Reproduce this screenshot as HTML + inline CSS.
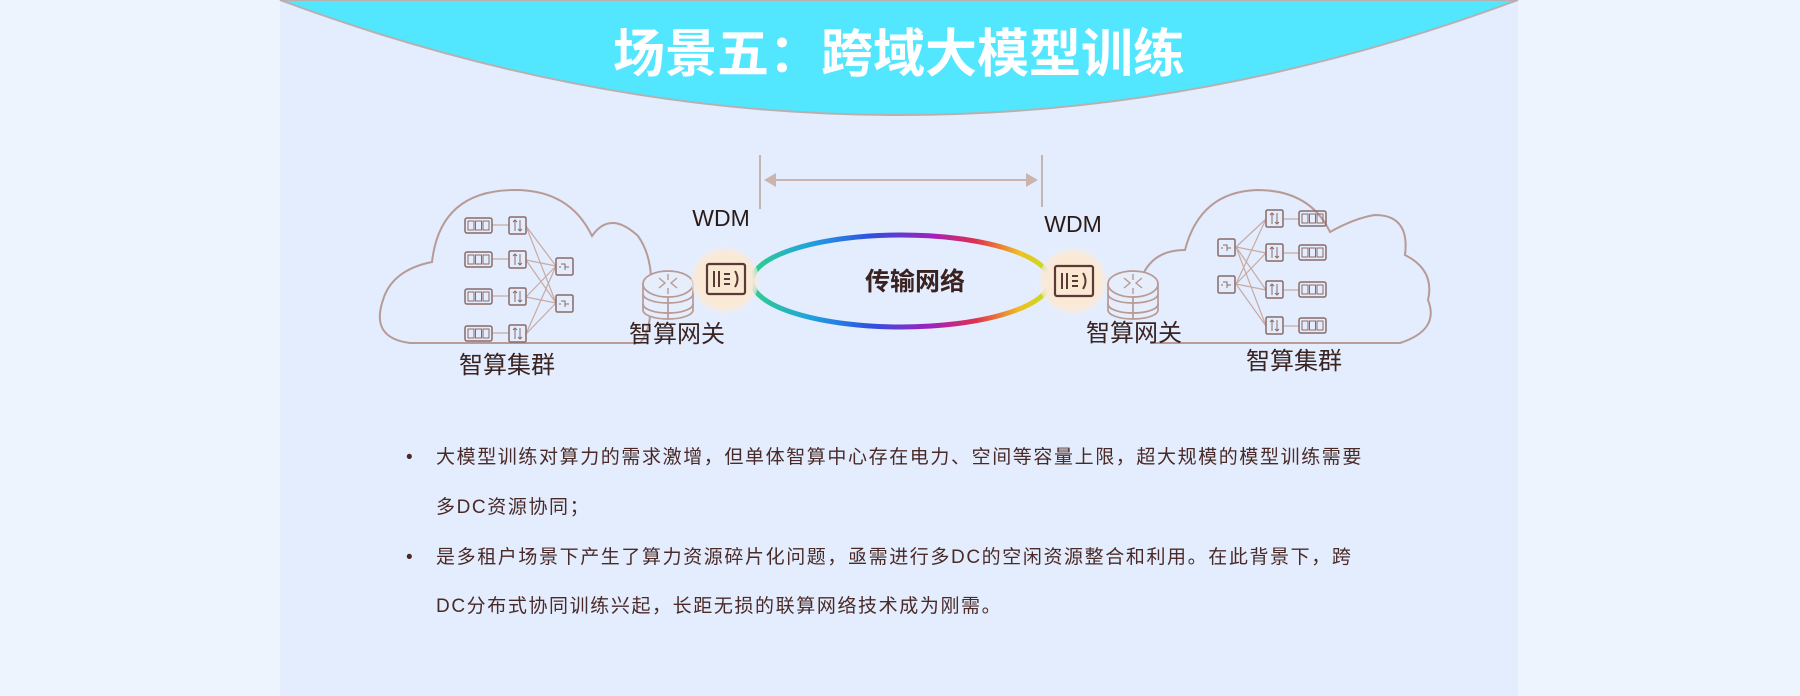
<!DOCTYPE html>
<html><head><meta charset="utf-8"><style>
html,body{margin:0;padding:0;width:1800px;height:696px;overflow:hidden;background:#eef4fd;}
svg{display:block}
</style></head><body>
<svg width="1800" height="696" viewBox="0 0 1800 696" xmlns="http://www.w3.org/2000/svg" font-family="'Liberation Sans','Noto Sans CJK SC',sans-serif">
<defs>
<linearGradient id="rb" x1="0" y1="0" x2="1" y2="0">
<stop offset="0" stop-color="#2fd08a"/><stop offset="0.2" stop-color="#20a0e0"/><stop offset="0.4" stop-color="#3050e0"/>
<stop offset="0.6" stop-color="#a020c0"/><stop offset="0.75" stop-color="#e03050"/><stop offset="0.9" stop-color="#f0c020"/><stop offset="1" stop-color="#c0e020"/>
</linearGradient>
<radialGradient id="gl"><stop offset="0" stop-color="#fbe8d0"/><stop offset="0.8" stop-color="#fae9d6"/><stop offset="1" stop-color="#f4ebe6" stop-opacity="0.6"/></radialGradient>
<g id="srv"><rect x="0" y="0" width="27" height="15" rx="2" fill="none" stroke="#8a6a66" stroke-width="1.5"/><rect x="3" y="3" width="6" height="9" fill="none" stroke="#8a6a66"/><rect x="10.5" y="3" width="6" height="9" fill="none" stroke="#8a6a66"/><rect x="18" y="3" width="6" height="9" fill="none" stroke="#8a6a66"/></g>
<g id="sw"><rect x="0" y="0" width="17" height="17" rx="1.5" fill="none" stroke="#8a6a66" stroke-width="1.5"/><path d="M6 3v11M11 3v11M4 5l2-2 2 2M9 12l2 2 2-2" fill="none" stroke="#8a6a66"/></g>
<g id="sp"><rect x="0" y="0" width="17" height="17" rx="1.5" fill="none" stroke="#8a6a66" stroke-width="1.5"/><path d="M5 6h4v6M9 9h4M3 9h2" fill="none" stroke="#8a6a66"/></g>
<g id="rtr" stroke="#b89a96" stroke-width="1.7" fill="#e6eefc">
<path d="M-25 34v6a25 9 0 0 0 50 0v-6"/>
<ellipse cx="0" cy="34" rx="25" ry="9"/>
<path d="M-25 24v10a25 9 0 0 0 50 0v-10"/>
<path d="M-25 14v10a25 9 0 0 0 50 0v-10"/>
<ellipse cx="0" cy="14" rx="25" ry="13"/>
<path d="M-9 8l6 5-6 5M9 8l-6 5 6 5M0 4v6M0 18v6" fill="none" stroke-width="1.4"/>
<path d="M0 27v22" fill="none"/>
</g>
<g id="wdm"><rect x="-19" y="-15" width="38" height="30" rx="2" fill="none" stroke="#5a3a34" stroke-width="2.2"/><path d="M-12 -8v16M-7 -8v16M-2 -5h6M-2 0h6M-2 5h6M9 -8q5 8 0 16" fill="none" stroke="#5a3a34" stroke-width="2"/></g>
</defs>
<rect x="280" y="0" width="1238" height="696" fill="#e3edfd"/>
<path d="M280 0 Q899 230 1518 0 Z" fill="#52e6ff" stroke="#b8b0b0" stroke-width="2"/>
<text x="899" y="72" text-anchor="middle" font-size="52" font-weight="bold" fill="#fff">场景五：跨域大模型训练</text>

<path d="M760 155v54M1042 155v52" stroke="#b8a298" stroke-width="1.5"/>
<path d="M770 180h262" stroke="#ccb4ae" stroke-width="2"/>
<path d="M764 180l12-7v14z M1038 180l-12-7v14z" fill="#ccb4ae"/>

<path d="M410 343 Q370 338 383 300 Q392 270 432 262 Q440 190 515 190 Q570 190 592 236 Q610 210 638 236 Q655 260 650 300 Q652 330 640 343 Z" fill="none" stroke="#b89a96" stroke-width="2"/>
<path d="M1150 343 L1400 343 Q1440 330 1428 300 Q1435 270 1405 255 Q1410 215 1375 215 Q1355 218 1330 232 Q1310 190 1257 190 Q1200 192 1185 250 Q1150 250 1140 282" fill="none" stroke="#b89a96" stroke-width="2"/>

<g stroke="#c8aaa4" stroke-width="1.2" fill="none">
<path d="M492 225h17M492 259h17M492 296h17M492 333h17"/>
<path d="M526 226L556 266M526 226L556 303M526 260L556 266M526 260L556 303M526 297L556 266M526 297L556 303M526 334L556 266M526 334L556 303"/>
</g>
<use href="#srv" x="465" y="218"/><use href="#srv" x="465" y="252"/><use href="#srv" x="465" y="289"/><use href="#srv" x="465" y="326"/>
<use href="#sw" x="509" y="217"/><use href="#sw" x="509" y="251"/><use href="#sw" x="509" y="288"/><use href="#sw" x="509" y="325"/>
<use href="#sp" x="556" y="258"/><use href="#sp" x="556" y="295"/>

<g stroke="#c8aaa4" stroke-width="1.2" fill="none">
<path d="M1284 219h15M1284 253h15M1284 290h15M1284 326h15"/>
<path d="M1236 247L1266 219M1236 247L1266 253M1236 247L1266 290M1236 247L1266 326M1236 284L1266 219M1236 284L1266 253M1236 284L1266 290M1236 284L1266 326"/>
</g>
<use href="#sp" x="1218" y="239"/><use href="#sp" x="1218" y="276"/>
<use href="#sw" x="1266" y="210"/><use href="#sw" x="1266" y="244"/><use href="#sw" x="1266" y="281"/><use href="#sw" x="1266" y="317"/>
<use href="#srv" x="1299" y="211"/><use href="#srv" x="1299" y="245"/><use href="#srv" x="1299" y="282"/><use href="#srv" x="1299" y="318"/>

<use href="#rtr" x="668" y="270"/>
<use href="#rtr" x="1133" y="270"/>

<ellipse cx="901" cy="281" rx="149" ry="46" fill="none" stroke="url(#rb)" stroke-width="5"/>
<ellipse cx="725" cy="280" rx="34" ry="33" fill="url(#gl)"/>
<ellipse cx="1073" cy="281" rx="34" ry="33" fill="url(#gl)"/>
<use href="#wdm" x="726" y="279"/>
<use href="#wdm" x="1074" y="281"/>

<g fill="#2a1a18" font-size="23">
<text x="721" y="226" text-anchor="middle">WDM</text>
<text x="1073" y="232" text-anchor="middle">WDM</text>
</g>
<text x="915" y="290" text-anchor="middle" font-size="25" font-weight="bold" fill="#3a2220">传输网络</text>
<g fill="#3a2422" font-size="24">
<text x="677" y="342" text-anchor="middle">智算网关</text>
<text x="1134" y="341" text-anchor="middle">智算网关</text>
<text x="507" y="373" text-anchor="middle">智算集群</text>
<text x="1294" y="369" text-anchor="middle">智算集群</text>
</g>

<g fill="#4a2a28" font-size="19" letter-spacing="1.6">
<text x="406" y="463">•</text>
<text x="436" y="463">大模型训练对算力的需求激增，但单体智算中心存在电力、空间等容量上限，超大规模的模型训练需要</text>
<text x="436" y="513">多DC资源协同；</text>
<text x="406" y="563">•</text>
<text x="436" y="563">是多租户场景下产生了算力资源碎片化问题，亟需进行多DC的空闲资源整合和利用。在此背景下，跨</text>
<text x="436" y="612">DC分布式协同训练兴起，长距无损的联算网络技术成为刚需。</text>
</g>
</svg>
</body></html>
